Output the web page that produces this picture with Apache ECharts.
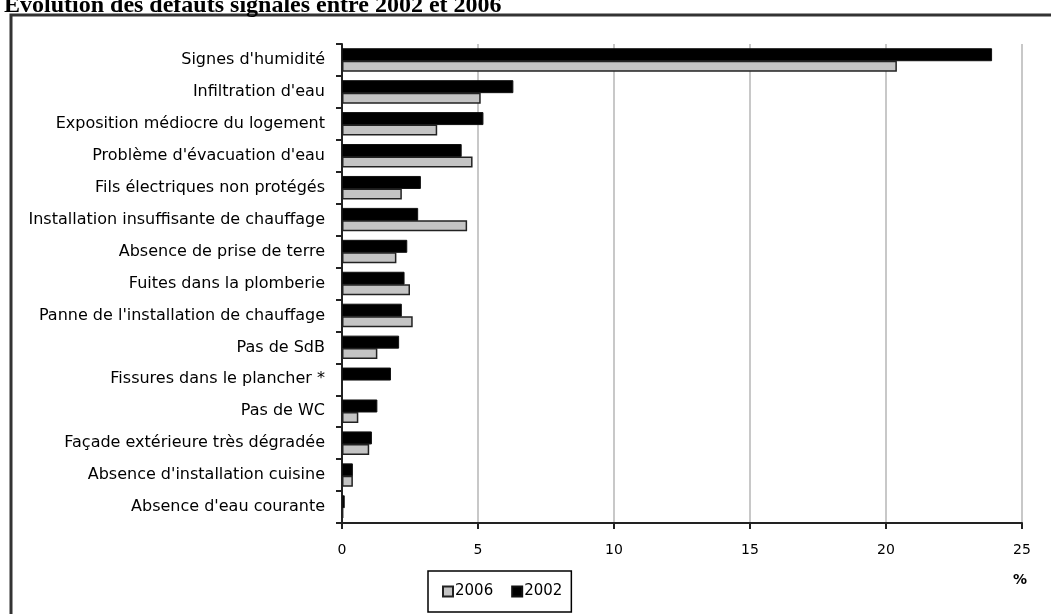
<!DOCTYPE html>
<html>
<head>
<meta charset="utf-8">
<script src="https://cdn.jsdelivr.net/npm/echarts@6/dist/echarts.min.js"></script>
<style>
  html, body { margin: 0; padding: 0; background: #fff; }
  #chart { width: 1051px; height: 614px; }
</style>
</head>
<body>
<div id="chart"></div>
<script>
// catégories, du haut vers le bas
const categories = [
  "Signes d'humidité",
  "Infiltration d'eau",
  'Exposition médiocre du logement',
  "Problème d'évacuation d'eau",
  'Fils électriques non protégés',
  'Installation insuffisante de chauffage',
  'Absence de prise de terre',
  'Fuites dans la plomberie',
  "Panne de l'installation de chauffage",
  'Pas de SdB',
  'Fissures dans le plancher *',
  'Pas de WC',
  'Façade extérieure très dégradée',
  "Absence d'installation cuisine",
  "Absence d'eau courante"
]
// en %
const values2002 = [23.9, 6.3, 5.2, 4.4, 2.9, 2.8, 2.4, 2.3, 2.2, 2.1, 1.8, 1.3, 1.1, 0.4, 0.1]
const values2006 = [20.4, 5.1, 3.5, 4.8, 2.2, 4.6, 2.0, 2.5, 2.6, 1.3, '-', 0.6, 1.0, 0.4, 0.05]
const xTicks = [0, 5, 10, 15, 20, 25]

const chart = echarts.init(document.getElementById('chart'))

const labelFont = 'DejaVu Sans, Verdana, sans-serif'

const option = {
  animation: false,
  title: {
    text: 'Évolution des défauts signalés entre 2002 et 2006',
    left: -1,
    top: -11,
    textStyle: {
      fontFamily: 'Liberation Serif, Times New Roman, serif',
      fontWeight: 'bold',
      fontSize: 24,
      color: '#000'
    }
  },
  legend: {
    data: ['2006', '2002'],
    left: 428,
    top: 571,
    padding: [13, 9, 13, 14],
    itemGap: 18,
    itemWidth: 10,
    itemHeight: 10,
    icon: 'rect',
    borderColor: '#000',
    borderWidth: 1.5,
    textStyle: { fontFamily: labelFont, fontSize: 15, color: '#000', padding: [0, 0, 0, -3] }
  },
  grid: {
    left: 342,
    right: 29,
    top: 44,
    bottom: 91
  },
  xAxis: {
    type: 'value',
    min: 0,
    max: 25,
    interval: 5,
    axisLine: { show: true, lineStyle: { color: '#222', width: 2 } },
    axisTick: { show: true, length: 6, inside: false, lineStyle: { color: '#222', width: 2 } },
    axisLabel: {
      margin: 20,
      fontFamily: labelFont,
      fontSize: 14,
      color: '#000',
      formatter: v => xTicks.indexOf(v) >= 0 ? String(v) : ''
    },
    splitLine: { show: true, lineStyle: { color: '#c8c8c8', width: 2 } }
  },
  yAxis: {
    type: 'category',
    data: categories,
    inverse: true,
    axisLine: { show: true, onZero: false, lineStyle: { color: '#222', width: 2 } },
    axisTick: { show: true, length: 6, lineStyle: { color: '#222', width: 2 } },
    axisLabel: {
      margin: 17,
      fontFamily: labelFont,
      fontSize: 16,
      color: '#000'
    },
    splitLine: { show: false }
  },
  series: [
    {
      name: '2002',
      type: 'bar',
      data: values2002,
      barWidth: 13,
      barGap: '-4%',
      itemStyle: { color: '#000', borderColor: '#111', borderWidth: 1 }
    },
    {
      name: '2006',
      type: 'bar',
      data: values2006,
      barWidth: 11,
      barGap: '-4%',
      itemStyle: { color: '#c4c4c4', borderColor: '#222', borderWidth: 1.5 }
    }
  ],
  graphic: [
    {
      type: 'rect',
      silent: true,
      shape: { x: 11, y: 15, width: 1100, height: 700 },
      style: { fill: 'none', stroke: '#333', lineWidth: 3 }
    },
    {
      type: 'text',
      left: 1013,
      top: 573,
      style: {
        text: '%',
        font: 'bold 14px ' + labelFont,
        fill: '#000'
      }
    }
  ]
}

chart.setOption(option)
</script>
</body>
</html>
